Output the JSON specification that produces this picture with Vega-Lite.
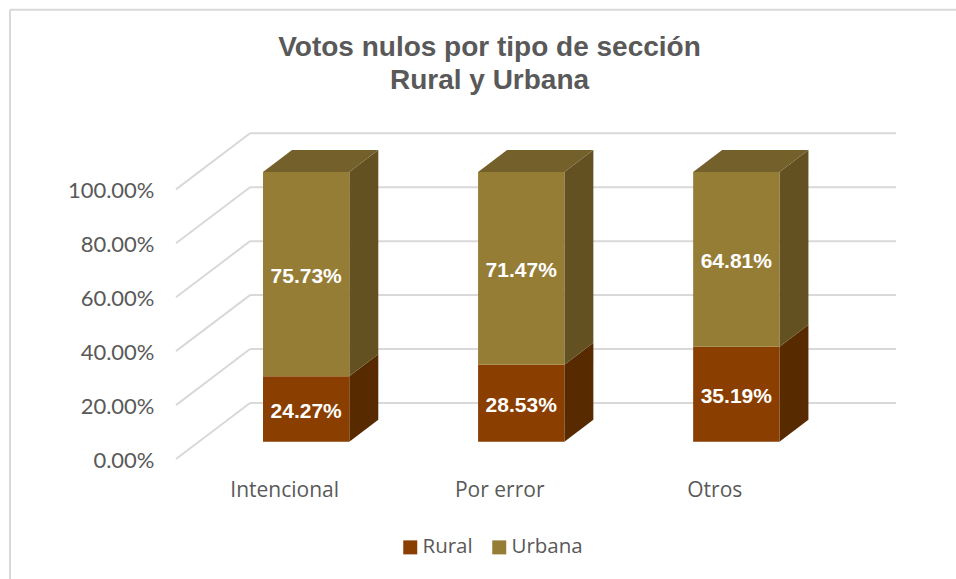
{
"$schema":"https://vega.github.io/schema/vega-lite/v6.json",
"width":720,"height":326,
"autosize":"none",
"padding":{"left":176,"top":133,"right":60,"bottom":120},
"background":"white",
"config":{"view":{"stroke":null}},
"title":{"text":["Votos nulos por tipo de sección","Rural y Urbana"],"font":"Liberation Sans","fontWeight":"bold","fontSize":28,"lineHeight":33,"color":"#595959","anchor":"middle","dx":-46.5,"offset":-86},
"datasets":{
"votos":[
{"tipo":"Intencional","serie":"Rural","valor":24.27},
{"tipo":"Intencional","serie":"Urbana","valor":75.73},
{"tipo":"Por error","serie":"Rural","valor":28.53},
{"tipo":"Por error","serie":"Urbana","valor":71.47},
{"tipo":"Otros","serie":"Rural","valor":35.19},
{"tipo":"Otros","serie":"Urbana","valor":64.81}
],
"niveles":[{"nivel":0},{"nivel":20},{"nivel":40},{"nivel":60},{"nivel":80},{"nivel":100}]
},
"layer":[
{"data":{"name":"niveles"},"transform":[{"calculate":"datum.nivel+20.8","as":"fondo"}],
 "mark":{"type":"rule","color":"#d9d9d9","strokeWidth":2},
 "encoding":{
  "x":{"datum":-0.6052,"type":"quantitative","title":null,"scale":{"domain":[-0.6052,2.7426],"nice":false,"zero":false},
   "axis":{"values":[0,1,2],"labelExpr":"['Intencional','Por error','Otros'][datum.value]","labelOffset":-22,"labelPadding":20,"labelFont":"Open Sans","labelFontSize":21,"labelColor":"#595959","domain":false,"ticks":false,"grid":false,"title":null}},
  "x2":{"datum":-0.2611},
  "y":{"field":"nivel","type":"quantitative","title":null,"scale":{"domain":[0,120.92],"nice":false,"zero":false},
   "axis":{"values":[0,20,40,60,80,100],"labelExpr":"format(datum.value,'.2f')+'%'","labelOffset":1.5,"labelPadding":22,"labelFont":"Lato","labelFontSize":22,"labelColor":"#595959","domain":false,"ticks":false,"grid":false,"title":null}},
  "y2":{"field":"fondo"}
 }},
{"data":{"name":"niveles"},"transform":[{"calculate":"datum.nivel+20.8","as":"fondo"}],
 "mark":{"type":"rule","color":"#d9d9d9","strokeWidth":2},
 "encoding":{
  "x":{"datum":-0.2611,"type":"quantitative","scale":{"domain":[-0.6052,2.7426],"nice":false,"zero":false}},
  "x2":{"datum":2.7426},
  "y":{"field":"fondo","type":"quantitative","scale":{"domain":[0,120.92],"nice":false,"zero":false}}
 }},
{"data":{"name":"votos"},
 "transform":[
  {"stack":"valor","groupby":["tipo"],"sort":[{"field":"serie","order":"ascending"}],"as":["v0","v1"]},
  {"calculate":"indexof(['Intencional','Por error','Otros'],datum.tipo)","as":"c"},
  {"calculate":"[0,1]","as":"p"},{"flatten":["p"]},
  {"calculate":"datum.c+0.2006+datum.p*0.1348","as":"px"},
  {"calculate":"datum.v0+6.42+datum.p*8.16","as":"ya"},
  {"calculate":"datum.v1+6.42+datum.p*8.16","as":"yb"},
  {"calculate":"datum.tipo+datum.serie","as":"clave"}
 ],
 "mark":{"type":"area","orient":"vertical"},
 "encoding":{
  "x":{"field":"px","type":"quantitative","scale":{"domain":[-0.6052,2.7426],"nice":false,"zero":false}},
  "y":{"field":"ya","type":"quantitative","scale":{"domain":[0,120.92],"nice":false,"zero":false}},
  "y2":{"field":"yb"},
  "detail":{"field":"clave"},
  "fill":{"condition":{"test":"datum.serie==='Rural'","value":"#572a00"},"value":"#635122"}
 }},
{"data":{"name":"votos"},
 "transform":[
  {"stack":"valor","groupby":["tipo"],"sort":[{"field":"serie","order":"ascending"}],"as":["v0","v1"]},
  {"filter":"datum.serie==='Urbana'"},
  {"calculate":"indexof(['Intencional','Por error','Otros'],datum.tipo)","as":"c"},
  {"calculate":"[0,1]","as":"p"},{"flatten":["p"]},
  {"calculate":"datum.c-0.2006+datum.p*0.1348","as":"xa"},
  {"calculate":"datum.c+0.2006+datum.p*0.1348","as":"xb"},
  {"calculate":"datum.v1+6.42+datum.p*8.16","as":"yt"}
 ],
 "mark":{"type":"area","orient":"horizontal","color":"#73602b"},
 "encoding":{
  "y":{"field":"yt","type":"quantitative","scale":{"domain":[0,120.92],"nice":false,"zero":false}},
  "x":{"field":"xa","type":"quantitative","scale":{"domain":[-0.6052,2.7426],"nice":false,"zero":false}},
  "x2":{"field":"xb"},
  "detail":{"field":"tipo"}
 }},
{"data":{"name":"votos"},
 "transform":[
  {"stack":"valor","groupby":["tipo"],"sort":[{"field":"serie","order":"ascending"}],"as":["v0","v1"]},
  {"calculate":"indexof(['Intencional','Por error','Otros'],datum.tipo)","as":"c"},
  {"calculate":"datum.c-0.2006","as":"xa"},
  {"calculate":"datum.c+0.2006","as":"xb"},
  {"calculate":"datum.v0+6.42","as":"ya"},
  {"calculate":"datum.v1+6.42","as":"yb"}
 ],
 "mark":{"type":"rect"},
 "encoding":{
  "x":{"field":"xa","type":"quantitative","scale":{"domain":[-0.6052,2.7426],"nice":false,"zero":false}},
  "x2":{"field":"xb"},
  "y":{"field":"ya","type":"quantitative","scale":{"domain":[0,120.92],"nice":false,"zero":false}},
  "y2":{"field":"yb"},
  "color":{"field":"serie","type":"nominal","scale":{"domain":["Rural","Urbana"],"range":["#8a3e00","#967d36"]},
   "legend":{"orient":"none","legendX":224,"legendY":404,"direction":"horizontal","title":null,"symbolType":"square","symbolSize":196,"symbolStrokeWidth":0,"labelFont":"Open Sans","labelFontSize":20.5,"labelColor":"#595959","labelOffset":2,"columnPadding":16,"padding":0}}
 }},
{"data":{"name":"votos"},
 "transform":[
  {"stack":"valor","groupby":["tipo"],"sort":[{"field":"serie","order":"ascending"}],"as":["v0","v1"]},
  {"calculate":"indexof(['Intencional','Por error','Otros'],datum.tipo)","as":"c"},
  {"calculate":"(datum.v0+datum.v1)/2+6.42","as":"ym"},
  {"calculate":"format(datum.valor,'.2f')+'%'","as":"etiqueta"}
 ],
 "mark":{"type":"text","font":"Liberation Sans","fontWeight":"bold","fontSize":21,"color":"white","baseline":"middle","dy":3},
 "encoding":{
  "x":{"field":"c","type":"quantitative","scale":{"domain":[-0.6052,2.7426],"nice":false,"zero":false}},
  "y":{"field":"ym","type":"quantitative","scale":{"domain":[0,120.92],"nice":false,"zero":false}},
  "text":{"field":"etiqueta","type":"nominal"}
 }},
{"data":{"values":[{"borde":"superior"}]},
 "mark":{"type":"rule","color":"#d9d9d9","strokeWidth":2},
 "encoding":{
  "x":{"datum":-1.377,"type":"quantitative","scale":{"domain":[-0.6052,2.7426],"nice":false,"zero":false}},
  "x2":{"datum":3.03},
  "y":{"datum":166.6,"type":"quantitative","scale":{"domain":[0,120.92],"nice":false,"zero":false}}
 }},
{"data":{"values":[{"borde":"izquierdo"}]},
 "mark":{"type":"rule","color":"#d9d9d9","strokeWidth":2},
 "encoding":{
  "x":{"datum":-1.377,"type":"quantitative","scale":{"domain":[-0.6052,2.7426],"nice":false,"zero":false}},
  "y":{"datum":166.6,"type":"quantitative","scale":{"domain":[0,120.92],"nice":false,"zero":false}},
  "y2":{"datum":-45}
 }}
]
}
